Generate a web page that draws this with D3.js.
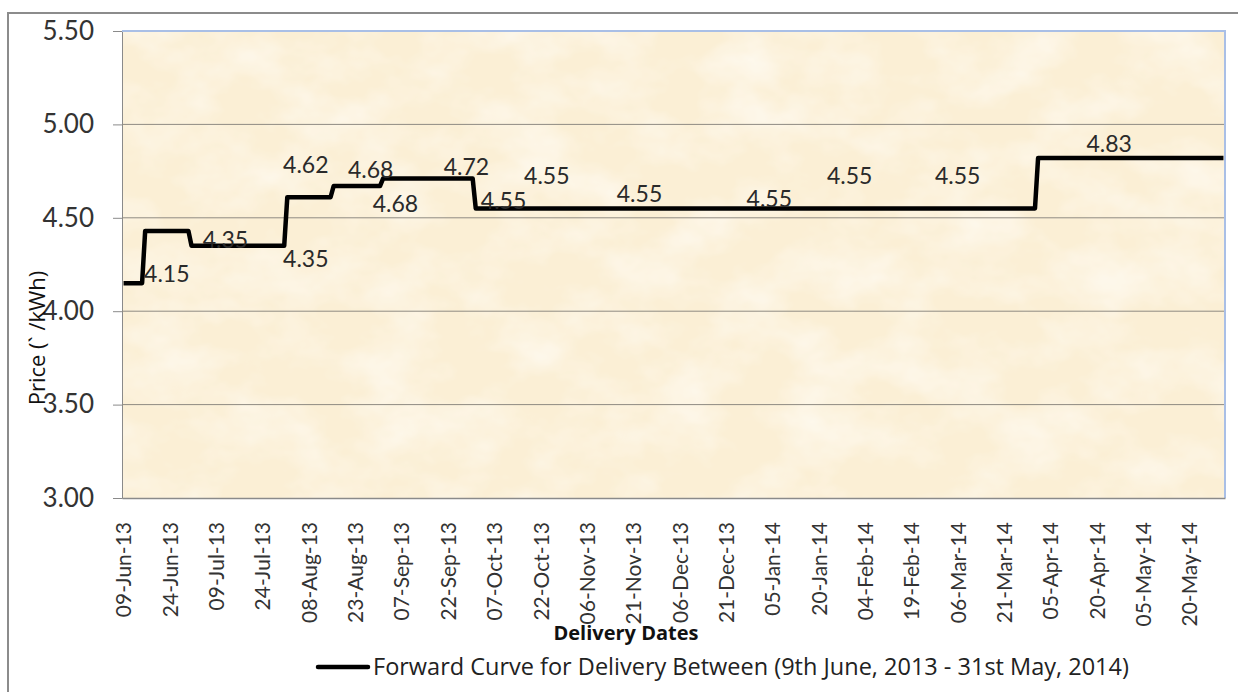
<!DOCTYPE html>
<html>
<head>
<meta charset="utf-8">
<script src="https://cdn.jsdelivr.net/npm/d3@7"></script>
<style>
  body { margin: 0; background: #fff; }
  svg { display: block; font-family: Lato, "Open Sans", sans-serif; }
</style>
</head>
<body>
<script>
// step starts (first day of each price block) and the price held over that block
const stepStarts = ["2013-06-09", "2013-06-16", "2013-07-01", "2013-08-01", "2013-08-16", "2013-09-01", "2013-10-01", "2014-04-01"];
const stepPrices = [4.15, 4.43, 4.35, 4.61, 4.67, 4.71, 4.55, 4.82];
const lastDay = "2014-05-31";

// data labels as they sit on the chart
const labelDates = ["2013-06-23", "2013-07-12", "2013-08-07", "2013-08-07", "2013-08-28", "2013-09-05", "2013-09-28",
                    "2013-10-10", "2013-10-24", "2013-11-23", "2014-01-04", "2014-01-30", "2014-03-06", "2014-04-24"];
const labelTexts = ["4.15", "4.35", "4.62", "4.35", "4.68", "4.68", "4.72",
                    "4.55", "4.55", "4.55", "4.55", "4.55", "4.55", "4.83"];

const xTickLabels = ["09-Jun-13", "24-Jun-13", "09-Jul-13", "24-Jul-13", "08-Aug-13", "23-Aug-13", "07-Sep-13", "22-Sep-13",
                     "07-Oct-13", "22-Oct-13", "06-Nov-13", "21-Nov-13", "06-Dec-13", "21-Dec-13", "05-Jan-14", "20-Jan-14",
                     "04-Feb-14", "19-Feb-14", "06-Mar-14", "21-Mar-14", "05-Apr-14", "20-Apr-14", "05-May-14", "20-May-14"];
const yTicks = [3.00, 3.50, 4.00, 4.50, 5.00, 5.50];

const W = 1238, H = 692;
const plot = { left: 122, right: 1225, top: 31, bottom: 498 };
// vertical nudge (px) of each data label from its value
const labelNudge = [-9, -6, -30, 13, -14, 20, -10, -8, -33, -15, -10, -33, -33, -12];

const parseDay = d3.utcParse("%Y-%m-%d");
const parseTick = d3.utcParse("%d-%b-%y");
const fmtTick = d3.utcFormat("%d-%b-%y");

const svg = d3.select("body").append("svg")
    .attr("width", W)
    .attr("height", H);

// paper texture for the plot area
const defs = svg.append("defs");
const f = defs.append("filter").attr("id", "paper")
    .attr("x", 0).attr("y", 0).attr("width", "100%").attr("height", "100%");
f.append("feTurbulence").attr("type", "fractalNoise").attr("baseFrequency", "0.014 0.02")
    .attr("numOctaves", 4).attr("seed", 7).attr("result", "noise");
f.append("feColorMatrix").attr("in", "noise").attr("type", "matrix")
    .attr("values", "0 0 0 0 1  0 0 0 0 0.98  0 0 0 0 0.94  1.3 0 0 0 -0.5");

// outer chart frame
svg.append("rect")
    .attr("x", 8).attr("y", 13)
    .attr("width", W + 10).attr("height", H + 10)
    .attr("fill", "none")
    .attr("stroke", "#8c8c8c")
    .attr("stroke-width", 2);

const x = d3.scaleUtc()
    .domain([d3.utcHour.offset(parseDay(stepStarts[0]), -12), d3.utcHour.offset(parseDay(lastDay), 12)])
    .range([plot.left, plot.right]);

const y = d3.scaleLinear()
    .domain([3, 5.5])
    .range([plot.bottom, plot.top]);

// plot background
svg.append("rect")
    .attr("x", plot.left).attr("y", plot.top)
    .attr("width", plot.right - plot.left).attr("height", plot.bottom - plot.top)
    .attr("fill", "#fbefd5");
svg.append("rect")
    .attr("x", plot.left).attr("y", plot.top)
    .attr("width", plot.right - plot.left).attr("height", plot.bottom - plot.top)
    .attr("filter", "url(#paper)");

// gridlines + y ticks
svg.append("g")
    .attr("transform", `translate(${plot.left},0)`)
    .call(d3.axisLeft(y).tickValues(yTicks).tickFormat(d3.format(".2f"))
        .tickSize(9).tickPadding(19))
    .call(g => g.select(".domain").attr("stroke", "#8a8a8a"))
    .call(g => g.selectAll(".tick line").attr("stroke", "#8a8a8a"))
    .call(g => g.selectAll(".tick text")
        .attr("font-size", 26).attr("fill", "#333").attr("font-family", "Lato, sans-serif"));

svg.append("g")
    .selectAll("line")
    .data(yTicks.slice(1, -1))
    .join("line")
    .attr("x1", plot.left).attr("x2", plot.right)
    .attr("y1", d => y(d)).attr("y2", d => y(d))
    .attr("stroke", "#8f8a82")
    .attr("stroke-width", 1);

// plot border top/right
svg.append("path")
    .attr("d", `M${plot.left},${plot.top}H${plot.right}V${plot.bottom}`)
    .attr("fill", "none")
    .attr("stroke", "#a9bfe6")
    .attr("stroke-width", 2);

// x axis
svg.append("g")
    .attr("transform", `translate(0,${plot.bottom})`)
    .call(d3.axisBottom(x).tickValues(xTickLabels.map(parseTick)).tickFormat(fmtTick)
        .tickSize(0).tickSizeOuter(0))
    .call(g => g.select(".domain").attr("stroke", "#8a8a8a").attr("stroke-width", 1.5))
    .call(g => g.selectAll(".tick text")
        .attr("transform", "rotate(-90)")
        .attr("x", -24).attr("y", 0).attr("dy", "0.35em")
        .attr("text-anchor", "end")
        .attr("font-size", 21).attr("fill", "#333").attr("font-family", "Lato, sans-serif"));

// step line: each block runs from its first to its last day
const pts = [];
stepStarts.forEach((s, i) => {
    const start = parseDay(s);
    const end = i < stepStarts.length - 1 ? d3.utcDay.offset(parseDay(stepStarts[i + 1]), -1) : parseDay(lastDay);
    pts.push([start, stepPrices[i]], [end, stepPrices[i]]);
});

svg.append("path")
    .datum(pts)
    .attr("fill", "none")
    .attr("stroke", "#000")
    .attr("stroke-width", 4.5)
    .attr("stroke-linejoin", "round")
    .attr("d", d3.line().x(d => x(d[0])).y(d => y(d[1])));

// data labels
svg.append("g")
    .selectAll("text")
    .data(labelTexts)
    .join("text")
    .attr("x", (d, i) => x(parseDay(labelDates[i])))
    .attr("y", (d, i) => y(+d) + labelNudge[i])
    .attr("dy", "0.35em")
    .attr("text-anchor", "middle")
    .attr("font-size", 23)
    .attr("fill", "#2a2a2a")
    .text(d => d);

// axis titles
svg.append("text")
    .attr("x", 626).attr("y", 640)
    .attr("text-anchor", "middle")
    .attr("font-family", "'Open Sans', sans-serif")
    .attr("font-size", 20)
    .attr("font-weight", "bold")
    .attr("fill", "#111")
    .text("Delivery Dates");

svg.append("text")
    .attr("transform", "translate(37,338) rotate(-90)")
    .attr("text-anchor", "middle")
    .attr("dy", "0.35em")
    .attr("font-family", "'Open Sans', sans-serif")
    .attr("font-size", 22)
    .attr("fill", "#111")
    .text("Price (` /kWh)");

// legend
const legend = svg.append("g").attr("transform", "translate(318,667)");
legend.append("line")
    .attr("x1", 0).attr("x2", 50)
    .attr("stroke", "#000").attr("stroke-width", 4.5).attr("stroke-linecap", "round");
legend.append("text")
    .attr("x", 55).attr("dy", "0.35em")
    .attr("font-family", "'Open Sans', sans-serif")
    .attr("font-size", 23.5)
    .attr("fill", "#222")
    .text("Forward Curve for Delivery Between (9th June, 2013 - 31st May, 2014)");
</script>
</body>
</html>
